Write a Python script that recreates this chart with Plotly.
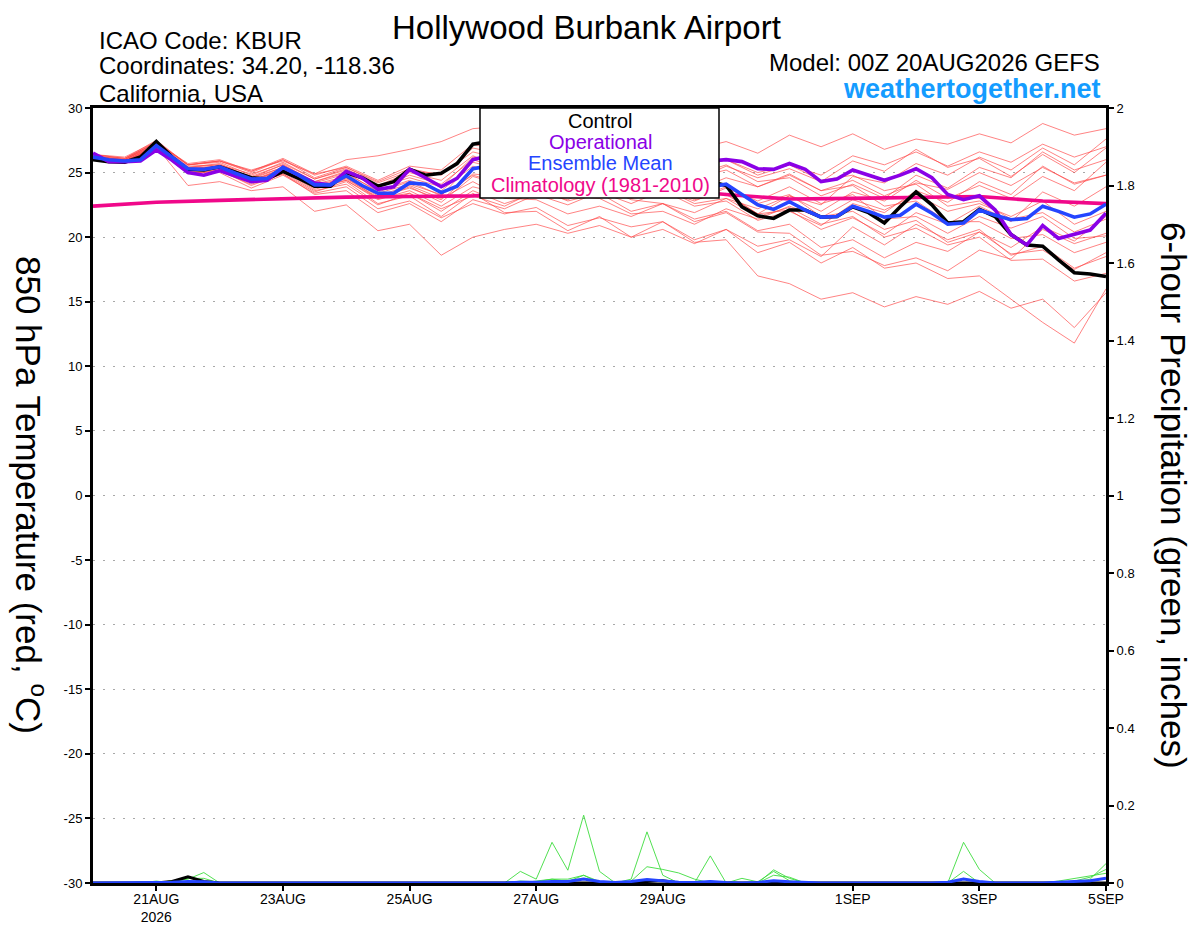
"""GEFS 850 hPa temperature / 6-hour precipitation plume for KBUR."""
import pandas as pd
import plotly.graph_objects as go

# ---- time axes -------------------------------------------------------------
times_6h = pd.date_range("2026-08-20 00:00", periods=65, freq="6h")
times_12h = pd.date_range("2026-08-20 00:00", periods=33, freq="12h")
times_day = pd.date_range("2026-08-20 00:00", periods=17, freq="D")

tick_dates = ["2026-08-21", "2026-08-23", "2026-08-25", "2026-08-27",
              "2026-08-29", "2026-09-01", "2026-09-03", "2026-09-05"]
tick_labels = ["21AUG<br>2026", "23AUG", "25AUG", "27AUG",
               "29AUG", "1SEP", "3SEP", "5SEP"]
temp_ticks = [30, 25, 20, 15, 10, 5, 0, -5, -10, -15, -20, -25, -30]
precip_ticks = [0, 0.2, 0.4, 0.6, 0.8, 1, 1.2, 1.4, 1.6, 1.8, 2]

# ---- 850 hPa temperature (deg C), 6-hourly --------------------------------
control = [26.0, 25.85, 25.8, 26.2, 27.4, 26.2, 25.25, 25.2,
           25.45, 25.0, 24.6, 24.5, 25.1, 24.55, 23.95, 23.95,
           25.0, 24.6, 23.95, 24.3, 25.25, 24.8, 24.95, 25.7,
           27.2, 27.4, 27.6, 27.2, 26.6, 26.0, 26.2, 25.8,
           25.6, 25.2, 25.4, 24.9, 24.6, 24.4, 24.2, 24.3,
           24.0, 22.35, 21.65, 21.45, 22.1, 22.1, 21.55, 21.6,
           22.35, 21.9, 21.1, 22.35, 23.5, 22.5, 21.1, 21.2,
           22.15, 21.6, 20.2, 19.4, 19.3, 18.25, 17.25, 17.15,
           16.95]
operational = [26.5, 25.85, 25.85, 25.9, 26.75, 25.95, 25.0, 24.8,
               25.15, 24.7, 24.3, 24.4, 25.4, 24.8, 24.2, 24.05,
               25.1, 24.6, 23.7, 23.9, 25.25, 24.6, 23.9, 24.55,
               26.0, 26.3, 26.4, 26.0, 25.8, 26.2, 26.5, 26.0,
               25.8, 26.2, 26.4, 25.9, 25.7, 26.1, 26.0, 25.9,
               26.0, 25.85, 25.3, 25.25, 25.7, 25.25, 24.3, 24.5,
               25.2, 24.8, 24.4, 24.8, 25.3, 24.6, 23.3, 22.9,
               23.2, 22.1, 20.2, 19.4, 20.9, 19.9, 20.25, 20.55,
               21.85]
ens_mean = [26.2, 26.0, 25.9, 26.0, 27.1, 26.2, 25.3, 25.25,
            25.45, 24.95, 24.5, 24.55, 25.4, 24.8, 24.05, 24.05,
            24.75, 24.0, 23.4, 23.4, 24.2, 24.1, 23.45, 23.95,
            25.3, 25.5, 25.6, 25.2, 24.9, 25.1, 25.3, 24.9,
            24.6, 24.8, 24.9, 24.5, 24.3, 24.5, 24.3, 23.9,
            24.1, 23.3, 22.5, 22.15, 22.75, 22.1, 21.55, 21.6,
            22.4, 22.0, 21.55, 21.7, 22.55, 21.85, 21.0, 21.1,
            22.1, 21.7, 21.35, 21.45, 22.4, 22.0, 21.55, 21.8,
            22.55]
climatology = [22.4, 22.7, 22.85, 23.0, 23.1, 23.15, 23.2, 23.4, 23.6,
               23.75, 23.3, 22.95, 23.0, 23.1, 23.15, 22.8, 22.6]

# ensemble members, 12-hourly
m01 = [26.3, 26.0, 27.4, 25.6, 25.9, 25.2, 25.9, 24.9,
       26.0, 26.3, 26.8, 27.4, 28.4, 28.6, 28.1, 27.2,
       27.8, 27.0, 27.6, 26.8, 27.4, 26.5, 27.9, 27.0,
       28.0, 26.8, 27.6, 27.2, 28.0, 27.3, 28.8, 27.9, 28.4]
m02 = [26.1, 25.8, 26.9, 25.0, 25.0, 23.8, 24.8, 23.4,
       23.9, 22.2, 22.8, 21.5, 22.6, 21.8, 22.3, 20.9,
       21.5, 20.8, 21.2, 19.6, 19.8, 17.0, 16.4, 15.2,
       15.7, 14.6, 15.4, 14.8, 15.8, 14.5, 15.2, 13.0, 15.7]
m03 = [26.0, 25.7, 26.8, 24.9, 25.2, 24.0, 24.9, 23.5,
       24.3, 22.6, 23.2, 21.6, 23.4, 21.9, 22.0, 20.5,
       21.6, 20.0, 20.6, 19.5, 20.6, 18.8, 19.6, 18.0,
       19.2, 17.6, 18.0, 16.8, 17.0, 15.2, 13.4, 11.8, 16.0]
m04 = [26.2, 25.8, 27.0, 24.0, 24.3, 23.6, 23.9, 22.0,
       22.5, 20.5, 21.0, 18.6, 20.0, 20.6, 21.0, 20.3,
       20.9, 20.0, 21.2, 19.8, 20.6, 19.3, 19.8, 18.5,
       20.8, 19.4, 21.0, 19.8, 20.6, 18.6, 19.3, 17.6, 18.5]
m05 = [26.4, 26.1, 27.3, 25.7, 26.0, 25.1, 26.1, 24.9,
       25.4, 24.2, 25.1, 24.9, 26.6, 26.0, 26.3, 25.4,
       25.2, 24.6, 24.9, 24.4, 25.5, 24.6, 25.3, 24.3,
       25.9, 25.1, 26.8, 25.4, 26.1, 24.7, 26.4, 25.0, 26.9]
m06 = [26.2, 26.0, 27.2, 25.4, 25.7, 24.6, 25.6, 24.3,
       25.0, 23.5, 24.3, 23.2, 25.8, 25.2, 25.9, 24.9,
       25.4, 24.0, 24.2, 22.9, 23.4, 21.8, 22.1, 20.6,
       21.5, 20.2, 21.9, 21.0, 22.4, 21.2, 23.5, 22.4, 23.9]
m07 = [26.1, 25.9, 27.0, 25.2, 25.3, 24.3, 25.2, 23.8,
       24.6, 23.0, 23.9, 22.7, 24.7, 24.0, 24.4, 23.4,
       24.0, 23.0, 23.6, 22.4, 22.8, 21.3, 22.0, 20.9,
       22.6, 21.9, 23.6, 22.7, 24.3, 23.3, 25.5, 24.1, 24.8]
m08 = [26.3, 26.0, 27.3, 25.5, 25.6, 24.9, 25.7, 24.5,
       25.3, 24.0, 25.0, 24.4, 26.3, 25.4, 25.6, 24.4,
       24.0, 22.9, 22.6, 21.4, 22.0, 20.5, 21.0, 19.2,
       19.8, 18.4, 19.6, 18.9, 20.4, 19.2, 20.8, 19.7, 21.6]
m09 = [26.2, 25.9, 27.1, 25.3, 25.5, 24.4, 25.3, 24.0,
       24.6, 23.2, 24.0, 23.0, 24.3, 23.0, 22.9, 21.8,
       22.4, 21.6, 22.6, 21.9, 23.0, 22.2, 23.2, 22.0,
       23.5, 22.8, 24.4, 23.0, 24.0, 23.0, 24.7, 23.6, 25.8]
m10 = [26.0, 25.8, 26.9, 25.1, 25.2, 24.2, 25.1, 23.7,
       24.4, 22.9, 23.6, 22.4, 23.9, 23.3, 23.8, 22.8,
       23.4, 22.0, 22.6, 21.2, 21.9, 20.4, 20.3, 18.6,
       18.9, 17.8, 18.4, 17.4, 19.0, 18.3, 20.6, 19.5, 20.3]
m11 = [26.4, 26.2, 27.4, 25.6, 25.9, 25.0, 26.0, 24.6,
       25.4, 24.3, 25.3, 24.8, 26.9, 26.4, 26.9, 25.8,
       26.2, 25.1, 25.6, 24.8, 25.6, 24.3, 24.6, 23.2,
       24.1, 23.0, 24.8, 23.8, 25.4, 24.6, 26.6, 25.2, 26.0]
m12 = [26.3, 25.9, 27.0, 25.1, 25.3, 24.3, 25.0, 23.6,
       24.1, 22.5, 23.4, 22.0, 23.6, 22.6, 23.4, 22.9,
       24.0, 23.1, 24.0, 23.0, 23.9, 22.6, 23.3, 21.6,
       22.0, 20.6, 21.3, 19.6, 20.4, 18.7, 19.0, 17.5, 18.8]
m13 = [26.2, 26.0, 27.2, 25.4, 25.6, 24.7, 25.6, 24.3,
       25.1, 23.8, 24.8, 24.1, 26.0, 25.2, 25.5, 24.9,
       25.6, 25.0, 25.8, 25.2, 26.0, 25.0, 25.6, 24.4,
       24.8, 23.6, 24.1, 22.4, 22.8, 21.4, 21.9, 20.4, 21.4]
m14 = [26.1, 25.8, 26.9, 25.2, 25.4, 24.3, 25.3, 23.9,
       24.5, 23.1, 23.8, 22.9, 24.9, 24.6, 25.3, 24.7,
       25.2, 23.9, 23.8, 22.6, 23.0, 21.6, 22.3, 21.0,
       21.6, 20.0, 20.7, 19.4, 20.0, 18.2, 18.3, 16.6, 17.2]
m15 = [26.3, 26.1, 27.3, 25.6, 25.8, 24.8, 25.8, 24.5,
       25.2, 23.9, 24.6, 23.9, 26.2, 25.8, 26.6, 26.0,
       26.6, 25.6, 25.9, 24.6, 25.2, 23.9, 24.8, 23.6,
       24.4, 23.2, 24.2, 23.7, 25.0, 24.0, 25.4, 24.2, 24.8]
m16 = [26.2, 25.9, 27.1, 25.2, 25.4, 24.6, 25.4, 24.2,
       24.9, 23.6, 24.4, 23.6, 25.5, 24.6, 24.7, 23.2,
       23.0, 21.8, 22.0, 21.0, 22.2, 21.4, 22.4, 21.5,
       22.9, 22.1, 23.3, 22.0, 22.6, 21.6, 22.8, 21.0, 22.0]
m17 = [26.0, 25.8, 26.8, 25.0, 25.1, 24.1, 24.9, 23.3,
       23.6, 21.9, 22.6, 21.2, 22.9, 22.2, 23.3, 22.5,
       23.5, 22.6, 23.6, 22.8, 23.8, 22.8, 23.9, 22.6,
       23.3, 21.4, 21.6, 20.3, 21.6, 20.7, 21.6, 19.9, 20.1]
m18 = [26.4, 26.1, 27.5, 25.6, 25.9, 25.1, 26.0, 24.8,
       25.5, 24.4, 25.5, 25.2, 27.2, 26.6, 27.4, 26.4,
       27.0, 26.0, 26.4, 25.2, 26.0, 24.8, 25.6, 24.8,
       26.3, 25.6, 26.6, 25.5, 26.6, 25.8, 27.2, 26.2, 27.0]
m19 = [26.2, 26.0, 27.1, 25.3, 25.5, 24.5, 25.4, 24.1,
       24.7, 23.4, 24.1, 23.3, 24.8, 24.1, 24.6, 23.8,
       24.3, 23.3, 24.0, 23.6, 24.6, 23.9, 24.9, 23.6,
       24.0, 22.4, 22.8, 21.2, 21.2, 19.9, 20.2, 18.8, 19.6]
m20 = [26.1, 25.9, 27.0, 25.3, 25.4, 24.4, 25.2, 23.9,
       24.4, 23.0, 23.4, 22.2, 23.2, 22.4, 23.6, 23.4,
       24.4, 23.7, 24.6, 23.2, 23.3, 21.8, 23.2, 22.5,
       24.7, 24.2, 25.7, 24.8, 26.2, 25.2, 26.9, 25.6, 27.6]
members = [m01, m02, m03, m04, m05, m06, m07, m08, m09, m10,
           m11, m12, m13, m14, m15, m16, m17, m18, m19, m20]

# ---- 6-hour precipitation (inches) ------------------------------------------
precip_g1 = [0, 0, 0, 0, 0, 0, 0, 0,
             0, 0, 0, 0, 0, 0, 0, 0,
             0, 0, 0, 0, 0, 0, 0, 0,
             0, 0, 0, 0.03, 0.01, 0.105, 0.033, 0.175,
             0.03, 0, 0.01, 0.132, 0.02, 0, 0, 0.07,
             0, 0, 0, 0.034, 0.012, 0, 0, 0,
             0, 0, 0, 0, 0, 0, 0, 0.105,
             0.035, 0, 0, 0, 0, 0, 0, 0.01,
             0.05]
precip_g2 = [0, 0, 0, 0.003, 0, 0.006, 0.01, 0.027,
             0, 0, 0, 0, 0, 0, 0, 0,
             0, 0, 0, 0, 0, 0, 0, 0,
             0, 0, 0, 0, 0.005, 0.01, 0.01, 0.02,
             0, 0, 0.005, 0.042, 0.035, 0.026, 0.01, 0,
             0, 0, 0, 0.02, 0.015, 0, 0, 0,
             0, 0, 0, 0, 0, 0, 0, 0.03,
             0, 0, 0, 0, 0, 0, 0.005, 0.015,
             0.035]
precip_g3 = [0, 0, 0, 0, 0.005, 0, 0.012, 0.012,
             0, 0, 0, 0, 0, 0, 0, 0,
             0, 0, 0, 0, 0, 0, 0, 0,
             0, 0, 0, 0.005, 0.003, 0.01, 0.004, 0.02,
             0.004, 0, 0, 0.01, 0.006, 0, 0, 0.005,
             0, 0.012, 0.003, 0.03, 0.006, 0, 0, 0,
             0, 0, 0, 0, 0, 0, 0, 0.012,
             0, 0, 0, 0, 0, 0.005, 0.012, 0.018,
             0.025]
precip_control = [0, 0, 0, 0, 0, 0.004, 0.016, 0.004,
                  0, 0, 0, 0, 0, 0, 0, 0,
                  0, 0, 0, 0, 0, 0, 0, 0,
                  0, 0, 0, 0, 0, 0, 0, 0,
                  0, 0, 0, 0.004, 0.006, 0, 0, 0,
                  0, 0, 0, 0, 0, 0, 0, 0,
                  0, 0, 0, 0, 0, 0, 0, 0,
                  0, 0, 0, 0, 0, 0, 0, 0,
                  0]
precip_mean = [0, 0, 0, 0, 0.001, 0.002, 0.004, 0.003,
               0, 0, 0, 0, 0, 0, 0, 0,
               0, 0, 0, 0, 0, 0, 0, 0,
               0, 0, 0, 0.002, 0.002, 0.004, 0.004, 0.01,
               0.004, 0.001, 0.004, 0.009, 0.006, 0.002, 0.001, 0.004,
               0.001, 0, 0.001, 0.006, 0.003, 0.001, 0, 0,
               0, 0, 0, 0, 0, 0, 0.002, 0.01,
               0.004, 0, 0, 0, 0, 0.002, 0.004, 0.006,
               0.012]

# ---- styling --------------------------------------------------------------
FONT = "Liberation Sans, Arial, sans-serif"
C_MEMBER = "rgba(255,70,70,0.75)"
C_GREEN = "#3ddc3d"
C_OPER = "#8a00e6"
C_MEAN = "#2545ff"
C_CLIM = "#f0088a"
C_WEB = "#149cff"

# plot-area box in page pixels; the page body adds an 8px margin
PAGE_OFF = 8
PL, PR, PT, PB = 93, 1106, 108, 883
W, H = 1200, 927


def px(x):
    return (x - PL) / (PR - PL)


def py(y):
    return (PB - y) / (PB - PT)


fig = go.Figure()

for m in members:
    fig.add_trace(go.Scatter(x=times_12h, y=m, mode="lines",
                             line=dict(color=C_MEMBER, width=0.9)))

fig.add_trace(go.Scatter(x=times_day, y=climatology, mode="lines",
                         line=dict(color=C_CLIM, width=3.6)))
fig.add_trace(go.Scatter(x=times_6h, y=control, mode="lines",
                         line=dict(color="black", width=3.6)))
fig.add_trace(go.Scatter(x=times_6h, y=operational, mode="lines",
                         line=dict(color=C_OPER, width=3.6)))
fig.add_trace(go.Scatter(x=times_6h, y=ens_mean, mode="lines",
                         line=dict(color=C_MEAN, width=3.6)))

for p in (precip_g1, precip_g2, precip_g3):
    fig.add_trace(go.Scatter(x=times_6h, y=p, mode="lines", yaxis="y2",
                             line=dict(color=C_GREEN, width=0.9)))
fig.add_trace(go.Scatter(x=times_6h, y=precip_control, mode="lines", yaxis="y2",
                         line=dict(color="black", width=3)))
fig.add_trace(go.Scatter(x=times_6h, y=precip_mean, mode="lines", yaxis="y2",
                         line=dict(color=C_MEAN, width=3)))

axis_common = dict(showline=True, linecolor="black", linewidth=3,
                   automargin=False,
                   ticks="outside", ticklen=5, tickwidth=1.5, tickcolor="black",
                   tickfont=dict(family=FONT, size=13, color="black"))

fig.update_layout(
    width=W, height=H,
    margin=dict(l=PL - PAGE_OFF, r=W - PR + PAGE_OFF,
                t=PT - PAGE_OFF, b=H - PB + PAGE_OFF),
    paper_bgcolor="white", plot_bgcolor="white",
    showlegend=False,
    font=dict(family=FONT, color="black"),
    xaxis=dict(axis_common, type="date", range=["2026-08-20", "2026-09-05"],
               tickvals=tick_dates, ticktext=tick_labels, showgrid=False,
               mirror=True, ticklabelstandoff=-4,
               tickfont=dict(family=FONT, size=14, color="black")),
    yaxis=dict(axis_common, range=[-30, 30], mirror=True,
               tickvals=temp_ticks, ticktext=[str(v) for v in temp_ticks],
               showgrid=True, gridcolor="#a8a8a8", gridwidth=1.3,
               griddash="2px,8px", zeroline=False),
    yaxis2=dict(axis_common, overlaying="y", side="right", range=[0, 2],
                tickvals=precip_ticks, ticktext=[str(v) for v in precip_ticks],
                showgrid=False, zeroline=False),
)

# legend box drawn over the plume, like the original
fig.add_shape(type="rect", xref="paper", yref="paper",
              x0=px(480), x1=px(719), y0=py(198), y1=py(108),
              fillcolor="white", line=dict(color="black", width=1.5),
              layer="above")
legend_rows = [("Control", "black", 121), ("Operational", C_OPER, 142),
               ("Ensemble Mean", C_MEAN, 163),
               ("Climatology (1981-2010)", C_CLIM, 185)]
for text, col, ypix in legend_rows:
    fig.add_annotation(text=text, xref="paper", yref="paper",
                       x=px(600), y=py(ypix), showarrow=False,
                       xanchor="center", yanchor="middle",
                       font=dict(family=FONT, size=20, color=col))

# header text
fig.add_annotation(text="Hollywood Burbank Airport", xref="paper", yref="paper",
                   x=px(586), y=py(27), showarrow=False, xanchor="center",
                   yanchor="middle", font=dict(family=FONT, size=33))
for text, ypix in [("ICAO Code: KBUR", 40), ("Coordinates: 34.20, -118.36", 66),
                   ("California, USA", 93)]:
    fig.add_annotation(text=text, xref="paper", yref="paper", x=px(97),
                       y=py(ypix), showarrow=False, xanchor="left",
                       yanchor="middle", font=dict(family=FONT, size=24))
fig.add_annotation(text="Model: 00Z 20AUG2026 GEFS", xref="paper", yref="paper",
                   x=px(1102), y=py(63), showarrow=False, xanchor="right",
                   yanchor="middle", font=dict(family=FONT, size=24))
fig.add_annotation(text="<b>weathertogether.net</b>", xref="paper", yref="paper",
                   x=px(1103), y=py(89), showarrow=False, xanchor="right",
                   yanchor="middle", font=dict(family=FONT, size=27, color=C_WEB))

# axis titles, both rotated to read top-to-bottom
fig.add_annotation(text="850 hPa Temperature (red, <sup>o</sup>C)",
                   xref="paper", yref="paper", x=px(31), y=py(495),
                   showarrow=False, textangle=90, xanchor="center",
                   yanchor="middle", font=dict(family=FONT, size=35))
fig.add_annotation(text="6-hour Precipitation (green, inches)",
                   xref="paper", yref="paper", x=px(1174), y=py(495),
                   showarrow=False, textangle=90, xanchor="center",
                   yanchor="middle", font=dict(family=FONT, size=35))

fig.write_html("out.html")
